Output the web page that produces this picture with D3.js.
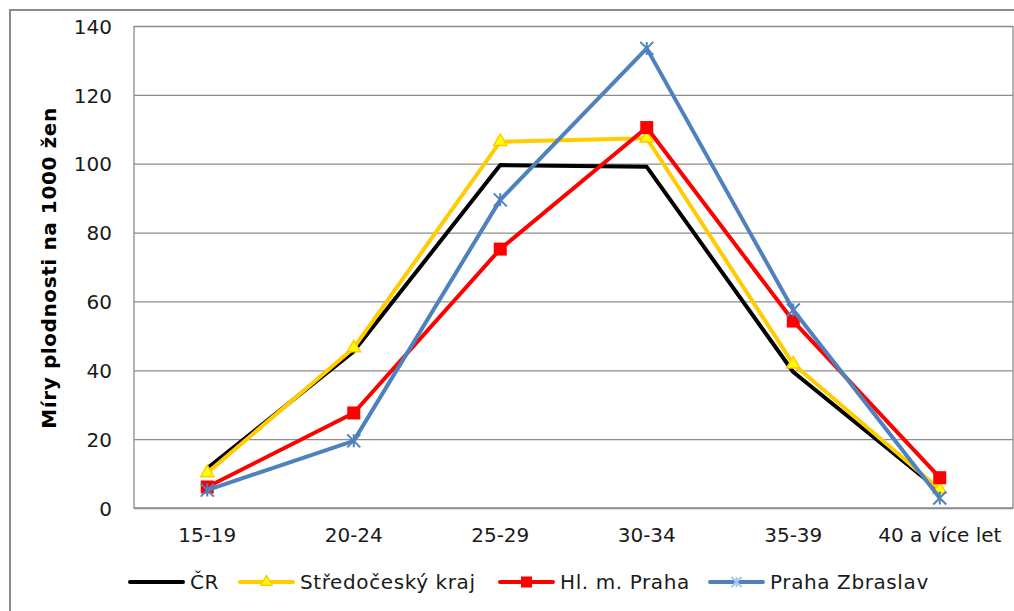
<!DOCTYPE html>
<html>
<head>
<meta charset="utf-8">
<script src="https://cdn.jsdelivr.net/npm/d3@7"></script>
<style>
  body { margin: 0; background: #fff; }
  svg text { font-family: "DejaVu Sans", Verdana, sans-serif; }
</style>
</head>
<body>
<div id="chart"></div>
<script>
// ── Data ────────────────────────────────────────────────────────
const CATEGORIES = ["15-19", "20-24", "25-29", "30-34", "35-39", "40 a více let"];
const CR         = [11.5, 45.5, 99.6, 99.1, 39.5, 5.0];
const STREDOCESKY = [10.2, 46.5, 106.4, 107.4, 41.8, 5.4];
const PRAHA      = [6.1, 27.6, 75.2, 110.5, 54.3, 8.8];
const ZBRASLAV   = [5.2, 19.5, 89.5, 133.5, 57.5, 2.9];
const Y_TICKS    = [0, 20, 40, 60, 80, 100, 120, 140];

const SERIES = [
    { name: "ČR", values: CR, color: "#000000", marker: "none" },
    { name: "Středočeský kraj", values: STREDOCESKY, color: "#ffcc00", marker: "triangle" },
    { name: "Hl. m. Praha", values: PRAHA, color: "#ff0000", marker: "square" },
    { name: "Praha Zbraslav", values: ZBRASLAV, color: "#4f81bd", marker: "star" }
];

// ── Layout ──────────────────────────────────────────────────────
const W = 1014, H = 611;
const plot = { left: 134, right: 1013, top: 26, bottom: 508 };
const FONT = "'DejaVu Sans', Verdana, sans-serif";

const svg = d3.select("#chart").append("svg")
    .attr("width", W)
    .attr("height", H);

// outer chart frame
svg.append("rect")
    .attr("x", 10).attr("y", 10)
    .attr("width", W + 10).attr("height", H + 10)
    .attr("fill", "none")
    .attr("stroke", "#8c8c8c")
    .attr("stroke-width", 2);

const x = d3.scaleBand()
    .domain(CATEGORIES)
    .range([plot.left, plot.right]);

const y = d3.scaleLinear()
    .domain([0, 140])
    .range([plot.bottom, plot.top]);

// ── Gridlines + y axis ─────────────────────────────────────────
svg.append("g")
    .attr("transform", `translate(${plot.left},0)`)
    .attr("font-family", FONT)
    .call(d3.axisLeft(y).tickValues(Y_TICKS).tickSize(-(plot.right - plot.left)).tickPadding(22))
    .attr("font-family", FONT)
    .call(g => g.select(".domain").remove())
    .call(g => g.selectAll(".tick line").attr("stroke", "#8c8c8c").attr("stroke-width", 1.3))
    .call(g => g.selectAll(".tick text")
        .attr("fill", "#1a1a1a")
        .attr("dy", "0.36em")
        .style("font-size", "20px"));

// plot area frame (left, right, bottom)
svg.append("path")
    .attr("d", `M${plot.left},${plot.top}V${plot.bottom}H${plot.right}V${plot.top}`)
    .attr("fill", "none")
    .attr("stroke", "#8c8c8c")
    .attr("stroke-width", 1.3);

// ── x axis labels ──────────────────────────────────────────────
svg.append("g")
    .attr("transform", `translate(0,${plot.bottom})`)
    .call(d3.axisBottom(x).tickSize(0).tickPadding(20))
    .attr("font-family", FONT)
    .call(g => g.select(".domain").remove())
    .call(g => g.selectAll(".tick text")
        .attr("fill", "#1a1a1a")
        .style("font-size", "20px"));

// y axis title
svg.append("text")
    .attr("transform", `translate(56,268) rotate(-90)`)
    .attr("text-anchor", "middle")
    .style("font-size", "20px")
    .style("font-weight", "bold")
    .style("letter-spacing", "0.6px")
    .attr("fill", "#000")
    .text("Míry plodnosti na 1000 žen");

// ── Lines + markers ────────────────────────────────────────────
const line = d3.line()
    .x((d, i) => x(CATEGORIES[i]) + x.bandwidth() / 2)
    .y(d => y(d));

function drawMarker(sel, type, color, size) {
    if (type === "square") {
        sel.append("rect")
            .attr("x", -size / 2).attr("y", -size / 2)
            .attr("width", size).attr("height", size)
            .attr("fill", color);
    } else if (type === "star") {
        const r = size / 2;
        sel.append("path")
            .attr("d", `M${-r},${-r}L${r},${r}M${-r},${r}L${r},${-r}M0,${-r}V${r}`)
            .attr("stroke", color).attr("stroke-width", 2).attr("fill", "none");
    } else if (type === "triangle") {
        sel.append("path")
            .attr("d", d3.symbol(d3.symbolTriangle, size * size * 0.45)())
            .attr("fill", "#ffff00")
            .attr("stroke", "#ffcc00").attr("stroke-width", 1.5);
    }
}

SERIES.forEach(s => {
    svg.append("path")
        .datum(s.values)
        .attr("d", line)
        .attr("fill", "none")
        .attr("stroke", s.color)
        .attr("stroke-width", 4)
        .attr("stroke-linejoin", "round");

    s.values.forEach((v, i) => {
        const g = svg.append("g")
            .attr("transform", `translate(${x(CATEGORIES[i]) + x.bandwidth() / 2},${y(v)})`);
        drawMarker(g, s.marker, s.color, 13);
    });
});

// ── Legend ──────────────────────────────────────────────────────
const LEGEND_X = [130, 240, 500, 710];
const legendY = 582;
SERIES.forEach((s, i) => {
    const g = svg.append("g").attr("transform", `translate(${LEGEND_X[i]},${legendY})`);
    g.append("line")
        .attr("x1", 0).attr("x2", 53)
        .attr("stroke", s.color)
        .attr("stroke-width", 4)
        .attr("stroke-linecap", "round");
    const m = g.append("g").attr("transform", "translate(26.5,0)");
    if (s.marker === "triangle") drawMarker(m, "triangle", s.color, 11);
    else if (s.marker === "square") drawMarker(m, "square", s.color, 11);
    else if (s.marker === "star") drawMarker(m, "star", "#a6c8f0", 10);
    g.append("text")
        .attr("x", 60)
        .attr("dy", "0.35em")
        .attr("fill", "#1a1a1a")
        .style("font-size", "20px")
        .style("letter-spacing", "0.6px")
        .text(s.name);
});
</script>
</body>
</html>
